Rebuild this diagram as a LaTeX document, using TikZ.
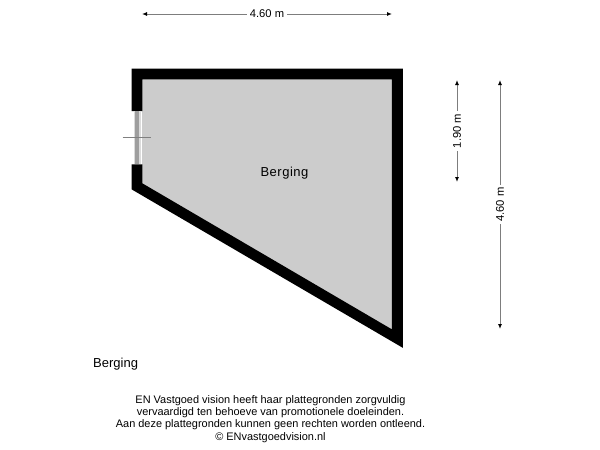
\documentclass[tikz,border=0pt]{standalone}
\usepackage{fontspec}
\setmainfont{Liberation Sans}
\definecolor{floorgray}{RGB}{204,204,204}
\definecolor{dimgray}{RGB}{125,125,125}
\tikzset{
    dimline/.style={draw=dimgray,line width=1pt,{Latex[length=5pt,width=4pt,black]}-{Latex[length=5pt,width=4pt,black]}},
    dimlabel/.style={fill=white,inner sep=2.5pt,font=\fontsize{11.2}{13}\selectfont},
}
\usetikzlibrary{arrows.meta}
\begin{document}
\begin{tikzpicture}[x=1pt,y=-1pt]
    \useasboundingbox (0,0) rectangle (600,450);
    \fill[white] (0,0) rectangle (600,450);
    % floor
    \fill[floorgray] (142,79) -- (392,79) -- (392,330) -- (142,184) -- cycle;
    % walls
    \fill[black] (131.5,68.5) -- (402.8,68.5) -- (402.8,347.8) -- (131.5,189.3) -- (131.5,164.3) -- (142.3,164.3)
        -- (142.3,183.3) -- (391.8,329.3) -- (391.8,79.3) -- (142.3,79.3) -- (142.3,111) -- (131.5,111) -- cycle;
    % window
    \fill[black!14] (133.8,111) rectangle (141,164.3);
    \fill[black!38] (135.3,111) rectangle (138.9,164.3);
    \draw[black!50,line width=0.7pt] (122.7,137.8) -- (150.7,137.8);
    % dimensions
    \coordinate (topleft) at (142,14);
    \coordinate (topright) at (392,14);
    \coordinate (shorttop) at (457,80);
    \coordinate (shortbottom) at (457,182);
    \coordinate (longtop) at (500,80);
    \coordinate (longbottom) at (500,329);
    \draw[dimline] (topleft) -- (topright) node[dimlabel,midway]{4.60 m};
    \draw[dimline] (shorttop) -- (shortbottom) node[dimlabel,midway,rotate=90]{1.90 m};
    \draw[dimline] (longtop) -- (longbottom) node[dimlabel,midway,rotate=90]{4.60 m};
    % labels
    \node[font=\fontsize{13}{15}\selectfont\addfontfeature{LetterSpace=4}] (room) at (284.5,173.5) {Berging};
    \node[font=\fontsize{13}{15}\selectfont,anchor=west,inner sep=0pt] (caption) at (93,364.5) {Berging};
    \node[font=\fontsize{10.95}{12.2}\selectfont,align=center,inner sep=0pt] (note) at (270.5,419)
        {EN Vastgoed vision heeft haar plattegronden zorgvuldig\\
         vervaardigd ten behoeve van promotionele doeleinden.\\
         Aan deze plattegronden kunnen geen rechten worden ontleend.\\
         © ENvastgoedvision.nl};
\end{tikzpicture}
\end{document}
